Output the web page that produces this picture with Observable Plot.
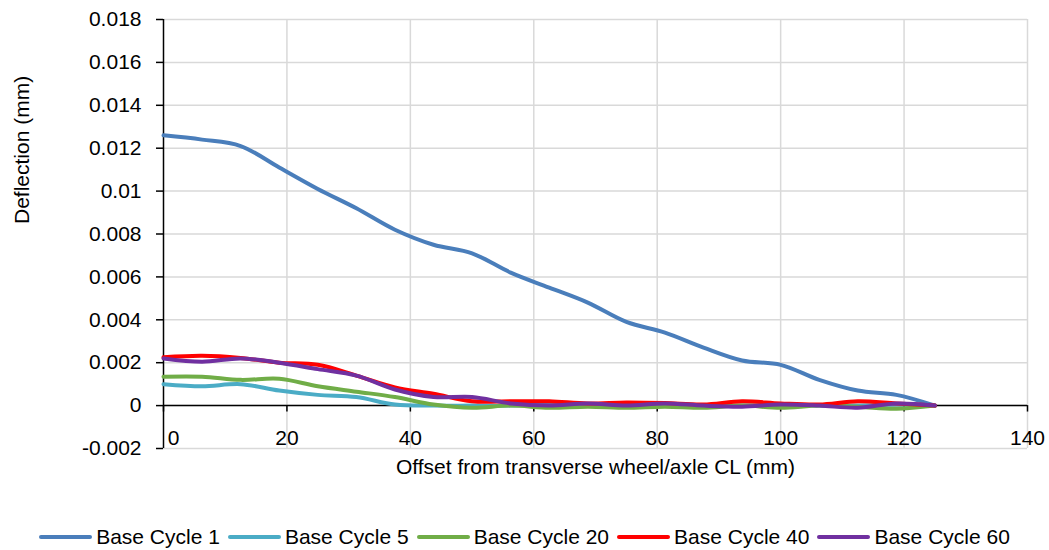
<!DOCTYPE html>
<html>
<head>
<meta charset="utf-8">
<script src="https://cdn.jsdelivr.net/npm/d3@7"></script>
<script src="https://cdn.jsdelivr.net/npm/@observablehq/plot@0.6"></script>
<style>
  html, body { margin: 0; padding: 0; background: #fff; }
  #wrap { position: relative; width: 1049px; height: 550px; font-family: 'Liberation Sans', Arial, sans-serif; }
  #legend { position: absolute; left: 0; top: 524px; width: 1049px; height: 26px; display: flex; justify-content: center; align-items: center; font-size: 21px; color: #000; white-space: nowrap; }
  .item { display: flex; align-items: center; margin: 0 4px; white-space: nowrap; }
  .sw { width: 53px; height: 4px; margin-right: 4px; border-radius: 2px; flex: none; }
</style>
</head>
<body>
<div id="wrap"><div id="chart"></div><div id="legend"></div></div>
<script>
const offsets = [0, 6.25, 12.5, 18.75, 25, 31.25, 37.5, 43.75, 50, 56.25, 62.5, 68.75, 75, 81.25, 87.5, 93.75, 100, 106.25, 112.5, 118.75, 125];
const cycle1  = [0.0126, 0.0124, 0.0121, 0.0111, 0.0101, 0.0092, 0.0082, 0.0075, 0.0071, 0.0062, 0.0055, 0.0048, 0.0039, 0.0034, 0.0027, 0.0021, 0.0019, 0.0012, 0.0007, 0.0005, 0];
const cycle5  = [0.0010, 0.0009, 0.0010, 0.0007, 0.0005, 0.0004, 0.00005, 0, 0, 0, 0.00005, 0, 0, 0.00005, 0, 0, 0.00005, 0, 0, 0.00005, 0];
const cycle20 = [0.00135, 0.00135, 0.0012, 0.00125, 0.0009, 0.00065, 0.0004, 0.00005, -0.0001, 0, -0.0001, -0.00005, -0.0001, -0.00005, -0.0001, 0, -0.0001, 0, -0.00005, -0.00015, 0];
const cycle40 = [0.00225, 0.00232, 0.00222, 0.002, 0.0019, 0.0014, 0.00085, 0.00055, 0.0002, 0.0002, 0.0002, 0.0001, 0.00015, 0.00012, 0.00005, 0.0002, 0.0001, 0.00005, 0.0002, 0.0001, 0];
const cycle60 = [0.0022, 0.00205, 0.0022, 0.002, 0.0017, 0.0014, 0.00075, 0.0004, 0.0004, 0.0001, 0, 0.0001, 0, 0.0001, 0, -0.00005, 0.00005, 0, -0.0001, 0.0001, 0];

const seriesNames = ["Base Cycle 1", "Base Cycle 5", "Base Cycle 20", "Base Cycle 40", "Base Cycle 60"];
const seriesValues = [cycle1, cycle5, cycle20, cycle40, cycle60];
const seriesColors = ["#4a7ebb", "#4bacc6", "#70ad47", "#ff0000", "#7030a0"];

const xTicks = [0, 20, 40, 60, 80, 100, 120, 140];
const yTicks = [-0.002, 0, 0.002, 0.004, 0.006, 0.008, 0.01, 0.012, 0.014, 0.016, 0.018];
const xTitle = "Offset from transverse wheel/axle CL (mm)";
const yTitle = "Deflection (mm)";

const rows = [];
seriesNames.forEach((name, i) => offsets.forEach((x, j) => rows.push({series: name, x, y: seriesValues[i][j]})));

const font = "'Liberation Sans', Arial, sans-serif";
const fmtY = d => String(+d.toFixed(3));

const chart = Plot.plot({
  width: 1049,
  height: 490,
  marginTop: 19,
  marginBottom: 42,
  marginLeft: 163,
  marginRight: 22,
  style: {fontFamily: font, fontSize: "21px", color: "#000", background: "#fff"},
  x: {domain: [0, 140], axis: null},
  y: {domain: [-0.002, 0.018], axis: null},
  color: {domain: seriesNames, range: seriesColors},
  marks: [
    Plot.gridX(xTicks.filter(d => d > 0), {stroke: "#d9d9d9", strokeOpacity: 1, strokeWidth: 1.5}),
    Plot.gridY(yTicks, {stroke: "#d9d9d9", strokeOpacity: 1, strokeWidth: 1.5}),
    Plot.axisY(yTicks, {tickSize: 7, tickPadding: 15, tickFormat: fmtY, fontSize: 21, label: null, stroke: "#000", strokeWidth: 1.5}),
    Plot.ruleX([0], {stroke: "#000", strokeWidth: 1.5}),
    Plot.ruleY([0], {stroke: "#000", strokeWidth: 1.5}),
    Plot.ruleX(xTicks, {x: d => d, y1: 0, y2: -0.0003, stroke: "#000", strokeWidth: 1.5}),
    Plot.text(xTicks.filter(d => d > 0), {x: d => d, y: -0.002, dy: -10, text: d => String(d), fontSize: 21, lineAnchor: "middle"}),
    Plot.text(xTicks.filter(d => d === 0), {x: d => d, y: -0.002, dy: -10, dx: 10, text: d => String(d), fontSize: 21, lineAnchor: "middle"}),
    Plot.line(rows, {x: "x", y: "y", z: "series", stroke: "series", strokeWidth: 4, curve: "catmull-rom"}),
    Plot.text([xTitle], {frameAnchor: "bottom", dy: 19, lineAnchor: "middle", fontSize: 21}),
    Plot.text([yTitle], {frameAnchor: "left", dx: -141, dy: -10, rotate: -90, lineAnchor: "middle", fontSize: 21})
  ]
});
document.getElementById("chart").appendChild(chart);

const legend = document.getElementById("legend");
seriesNames.forEach((name, i) => {
  const item = document.createElement("div");
  item.className = "item";
  const sw = document.createElement("div");
  sw.className = "sw";
  sw.style.background = seriesColors[i];
  const label = document.createElement("span");
  label.textContent = name;
  item.appendChild(sw);
  item.appendChild(label);
  legend.appendChild(item);
});
</script>
</body>
</html>
